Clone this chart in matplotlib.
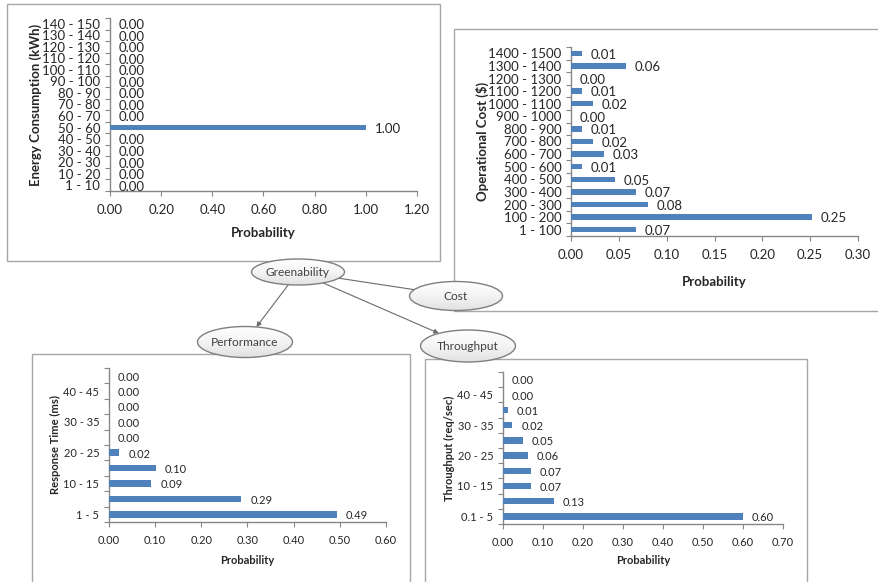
import matplotlib
matplotlib.use('Agg')
import matplotlib.pyplot as plt
from matplotlib.patches import Rectangle, Ellipse, FancyArrowPatch
from matplotlib.colors import LinearSegmentedColormap
import numpy as np

plt.rcParams['font.family'] = ['Lato', 'DejaVu Sans']

# ---------------- data ----------------
energy_cats = ['1 - 10', '10 - 20', '20 - 30', '30 - 40', '40 - 50', '50 - 60', '60 - 70',
               '70 - 80', '80 - 90', '90 - 100', '100 - 110', '110 - 120', '120 - 130',
               '130 - 140', '140 - 150']
energy_vals = [0, 0, 0, 0, 0, 1.00, 0, 0, 0, 0, 0, 0, 0, 0, 0]

cost_cats = ['1 - 100', '100 - 200', '200 - 300', '300 - 400', '400 - 500', '500 - 600',
             '600 - 700', '700 - 800', '800 - 900', '900 - 1000', '1000 - 1100',
             '1100 - 1200', '1200 - 1300', '1300 - 1400', '1400 - 1500']
cost_vals = [0.068, 0.252, 0.080, 0.068, 0.046, 0.011, 0.034, 0.023, 0.011, 0.0,
             0.023, 0.011, 0.0, 0.057, 0.011]

resp_cats = ['1 - 5', '5 - 10', '10 - 15', '15 - 20', '20 - 25', '25 - 30', '30 - 35',
             '35 - 40', '40 - 45', '45 - 50']
resp_vals = [0.494, 0.287, 0.092, 0.102, 0.022, 0, 0, 0, 0, 0]

thr_cats = ['0.1 - 5', '5 - 10', '10 - 15', '15 - 20', '20 - 25', '25 - 30', '30 - 35',
            '35 - 40', '40 - 45', '45 - 50']
thr_vals = [0.599, 0.127, 0.070, 0.070, 0.062, 0.049, 0.023, 0.012, 0, 0]

nodes = ['Greenability', 'Cost', 'Performance', 'Throughput']
edges = [('Greenability', 'Cost', False), ('Greenability', 'Performance', True),
         ('Greenability', 'Throughput', True)]

# ---------------- figure ----------------
W, H = 879, 582
fig = plt.figure(figsize=(W / 100, H / 100), dpi=100)
fig.patch.set_facecolor('white')

BAR = '#4f81bd'
SPINE = '#868686'
TXT = '#262626'


def hbar(rect, cats, vals, xmax, xstep, ylabel, every, fs, bar_h, ylab_x, xlab_y):
    x0, y0, x1, y1 = rect
    ax = fig.add_axes([x0 / W, 1 - y1 / H, (x1 - x0) / W, (y1 - y0) / H])
    n = len(cats)
    pos = np.arange(n)
    ax.barh(pos, vals, height=bar_h, color=BAR, zorder=3)
    ax.set_xlim(0, xmax)
    ax.set_ylim(-0.5, n - 0.5)
    for s in ['top', 'right']:
        ax.spines[s].set_visible(False)
    for s in ['left', 'bottom']:
        ax.spines[s].set_color(SPINE)
        ax.spines[s].set_linewidth(1.0)
    # y: tick marks at boundaries, labels at centers
    ax.set_yticks(np.arange(n + 1) - 0.5)
    ax.set_yticklabels([])
    ax.set_yticks(pos, minor=True)
    ax.set_yticklabels([c if i % every == 0 else '' for i, c in enumerate(cats)],
                       minor=True, fontsize=fs, color=TXT)
    ax.tick_params(axis='y', which='major', length=3.5, color=SPINE, direction='out')
    ax.tick_params(axis='y', which='minor', length=0, pad=7)
    xt = np.arange(0, xmax + 1e-9, xstep)
    ax.set_xticks(xt)
    ax.set_xticklabels(['%.2f' % v for v in xt], fontsize=fs, color=TXT)
    ax.tick_params(axis='x', length=3.5, color=SPINE, direction='out', pad=6)
    for i, v in enumerate(vals):
        ax.annotate('%.2f' % v, (v, i), xytext=(6.5, -1), textcoords='offset points',
                    ha='left', va='center', fontsize=fs, color=TXT)
    ax.set_ylabel(ylabel, fontsize=fs, fontweight='bold', color=TXT, va='center')
    ax.yaxis.set_label_coords((ylab_x - x0) / (x1 - x0), 0.5)
    ax.set_xlabel('Probability', fontsize=fs, fontweight='bold', color=TXT, va='center')
    ax.xaxis.set_label_coords(0.5, (y1 - xlab_y) / (y1 - y0))
    ax.patch.set_alpha(0)
    return ax


hbar((110, 18, 417, 191), energy_cats, energy_vals, 1.2, 0.2,
     'Energy Consumption (kWh)', 1, 9.5, 0.45, 36, 233)
hbar((571, 47, 858, 236), cost_cats, cost_vals, 0.30, 0.05,
     'Operational Cost ($)', 1, 9.5, 0.42, 482, 282)
hbar((109, 368, 386, 522), resp_cats, resp_vals, 0.60, 0.10,
     'Response Time (ms)', 2, 8, 0.42, 55, 560)
hbar((503, 372, 783, 524), thr_cats, thr_vals, 0.70, 0.10,
     'Throughput (req/sec)', 2, 8, 0.42, 449, 561)

# ---------------- overlay: frames, diagram ----------------
ov = fig.add_axes([0, 0, 1, 1], zorder=10)
ov.set_xlim(0, W)
ov.set_ylim(H, 0)
ov.axis('off')

FRAME = '#a6a6a6'
for (bx0, by0, bx1, by1) in [(7, 4, 440, 261), (454, 29, 884, 311),
                             (32, 354, 410, 590), (425, 359, 807, 590)]:
    ov.add_patch(Rectangle((bx0, by0), bx1 - bx0, by1 - by0, fill=False,
                           edgecolor=FRAME, lw=1.0, zorder=1))

geom = {'Greenability': (298, 272, 93, 26),
        'Cost': (456, 296, 93, 29),
        'Performance': (245, 342, 95, 31),
        'Throughput': (468, 346, 95, 32)}
cmap = LinearSegmentedColormap.from_list('g', ['#ffffff', '#f4f4f4', '#e2e2e2'])
grad = np.linspace(0, 1, 64).reshape(-1, 1)

ARROW = '#6b6b6b'


def edge_point(a, b):
    cx, cy, w, h = geom[a]
    tx, ty = geom[b][0], geom[b][1]
    ang = np.arctan2((ty - cy) / (h / 2), (tx - cx) / (w / 2))
    return cx + w / 2 * np.cos(ang), cy + h / 2 * np.sin(ang)


for a, b, head in edges:
    p0 = edge_point(a, b)
    p1 = edge_point(b, a)
    ov.add_patch(FancyArrowPatch(p0, p1, arrowstyle='-|>' if head else '-',
                                 mutation_scale=7, color=ARROW, lw=0.8,
                                 shrinkA=0, shrinkB=0, zorder=2))

for name in nodes:
    cx, cy, w, h = geom[name]
    e = Ellipse((cx, cy), w, h, facecolor='none', edgecolor='#7f7f7f', lw=1.0, zorder=4)
    im = ov.imshow(grad, cmap=cmap, extent=[cx - w / 2, cx + w / 2, cy + h / 2, cy - h / 2],
                   aspect='auto', zorder=3, interpolation='bilinear')
    bg = Ellipse((cx, cy), w, h, transform=ov.transData)
    im.set_clip_path(bg)
    ov.add_patch(e)
    ov.text(cx, cy, name, ha='center', va='center', fontsize=8.6, color='#404040', zorder=5)

ov.set_xlim(0, W)
ov.set_ylim(H, 0)

fig.savefig('out.png', dpi=100, facecolor='white')
